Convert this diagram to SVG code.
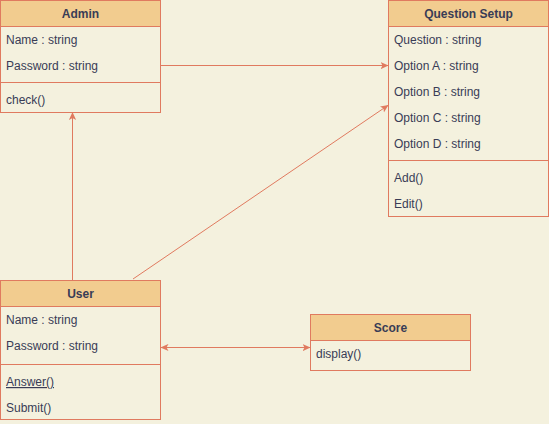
<svg xmlns="http://www.w3.org/2000/svg" width="549" height="424" viewBox="0 0 549 424">
<style>
.box{fill:#F4F1DE;stroke:#E07A5F;stroke-width:1}
.hdr{fill:#F2CC8F;stroke:#E07A5F;stroke-width:1}
.sep{stroke:#E07A5F;stroke-width:1;fill:none}
.t{font-family:"Liberation Sans",Arial,sans-serif;font-size:12px;fill:#393C56}
.h{font-family:"Liberation Sans",Arial,sans-serif;font-size:12px;font-weight:bold;fill:#393C56;text-anchor:middle}
.c{stroke:#E07A5F;stroke-width:1;fill:none}
</style>
<defs>
<marker id="a" viewBox="0 0 10 10" refX="10" refY="5" markerWidth="8" markerHeight="8" markerUnits="userSpaceOnUse" orient="auto-start-reverse">
<path d="M0,0.5 L10,5 L0,9.5 L2.5,5 Z" fill="#E07A5F"/>
</marker>
</defs>
<rect width="549" height="424" fill="#F4F1DE"/>
<g id="connectors">
<line class="c" x1="160.5" y1="65.5" x2="388.5" y2="65.5" marker-end="url(#a)"/>
<line class="c" x1="72.5" y1="280" x2="72.5" y2="112" marker-end="url(#a)"/>
<line class="c" x1="133" y1="279" x2="388.5" y2="105" marker-end="url(#a)"/>
<line class="c" x1="160.5" y1="347.5" x2="310.5" y2="347.5" marker-start="url(#a)" marker-end="url(#a)"/>
</g>
<g id="admin">
<rect class="box" x="0.5" y="0.5" width="160" height="112"/>
<rect class="hdr" x="0.5" y="0.5" width="160" height="26"/>
<text class="h" x="80.5" y="18">Admin</text>
<text class="t" x="6" y="44">Name : string</text>
<text class="t" x="6" y="70">Password : string</text>
<line class="sep" x1="0.5" y1="82.5" x2="160.5" y2="82.5"/>
<text class="t" x="6" y="104">check()</text>
</g>
<g id="question-setup">
<rect class="box" x="388.5" y="0.5" width="160" height="216"/>
<rect class="hdr" x="388.5" y="0.5" width="160" height="26"/>
<text class="h" x="468.5" y="18">Question Setup</text>
<text class="t" x="394" y="44">Question : string</text>
<text class="t" x="394" y="70">Option A : string</text>
<text class="t" x="394" y="96">Option B : string</text>
<text class="t" x="394" y="122">Option C : string</text>
<text class="t" x="394" y="148">Option D : string</text>
<line class="sep" x1="388.5" y1="160.5" x2="548.5" y2="160.5"/>
<text class="t" x="394" y="182">Add()</text>
<text class="t" x="394" y="208">Edit()</text>
</g>
<g id="user">
<rect class="box" x="0.5" y="280.5" width="160" height="139"/>
<rect class="hdr" x="0.5" y="280.5" width="160" height="26"/>
<text class="h" x="80.5" y="298">User</text>
<text class="t" x="6" y="324">Name : string</text>
<text class="t" x="6" y="350">Password : string</text>
<line class="sep" x1="0.5" y1="364.5" x2="160.5" y2="364.5"/>
<text class="t" x="6" y="386" text-decoration="underline">Answer()</text>
<text class="t" x="6" y="412">Submit()</text>
</g>
<g id="score">
<rect class="box" x="310.5" y="314.5" width="160" height="56"/>
<rect class="hdr" x="310.5" y="314.5" width="160" height="26"/>
<text class="h" x="390.5" y="332">Score</text>
<text class="t" x="316" y="358">display()</text>
</g>
</svg>
